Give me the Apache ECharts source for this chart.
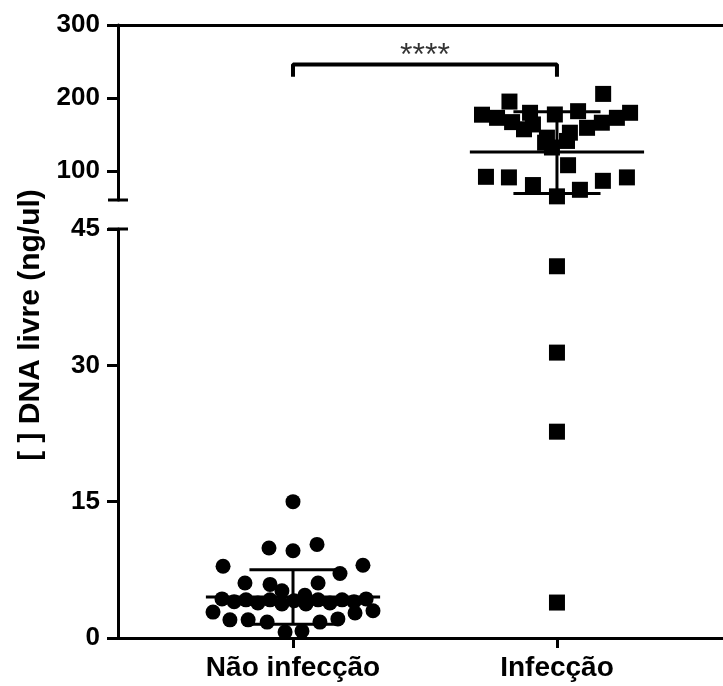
<!DOCTYPE html>
<html><head><meta charset="utf-8">
<script src="https://cdn.jsdelivr.net/npm/echarts@6/dist/echarts.min.js"></script>
<style>html,body{margin:0;padding:0;background:#fff}#c{width:723px;height:686px}</style>
</head><body><div id="c"></div>
<script>
// ---- data ----
const categories = ['Não infecção', 'Infecção'];
const categoryPositions = [1, 2];
// Não infecção: horizontal jitter (in category units) and values (ng/ul)
const naoOffsets = [0, -0.091, 0, 0.091, -0.265, 0.265, 0.178, -0.182, -0.087, 0.095, -0.042, 0.045,
  -0.269, -0.223, -0.178, -0.133, -0.087, -0.042, 0.004, 0.049, 0.095, 0.14, 0.186, 0.231, 0.277,
  -0.303, -0.239, -0.17, -0.098, 0.102, 0.17, 0.235, 0.303, -0.03, 0.034];
const naoValues = [15.0, 9.9, 9.6, 10.3, 7.9, 8.0, 7.1, 6.05, 5.9, 6.05, 5.2, 4.7,
  4.3, 4.0, 4.2, 3.85, 4.2, 3.75, 4.1, 3.75, 4.2, 3.85, 4.2, 4.0, 4.3,
  2.85, 2.0, 2.0, 1.75, 1.75, 2.1, 2.75, 3.0, 0.65, 0.77];
// Infecção
const infOffsets = [0.175, -0.18, -0.284, -0.227, -0.17, -0.102, -0.091, -0.008, 0.08, 0.277, 0.227, 0.17,
  0.114, 0.049, -0.038, -0.045, 0.038, -0.019, -0.125,
  -0.269, -0.182, -0.091, 0.042, 0, 0.087, 0.174, 0.265,
  0, 0, 0, 0];
const infValues = [205.5, 195, 177, 172.7, 166.8, 179.6, 163.6, 177.3, 181.8, 179.6, 172.7, 166,
  159, 152.3, 145.5, 138.6, 141, 132, 157,
  91.8, 91, 80.5, 107.7, 65, 74, 86.3, 91,
  40.9, 31.4, 22.7, 3.9];
// mean and SD whiskers per group
const means = [4.5, 126];
const sdUpper = [7.5, 181];
const sdLower = [1.5, 69];
// axes
const upperRange = [60, 300];
const upperTicks = [100, 200, 300];
const lowerRange = [0, 45];
const lowerInterval = 15;
const xRange = [0.337, 2.629];
// significance bracket
const significance = '****';
const bracketTop = 246;
const bracketLeg = 229;
const starsValue = 257;
const yTitle = '[ ] DNA livre (ng/ul)';

// ---- chart ----
const FONT = '"Liberation Sans", Arial, sans-serif';
const chart = echarts.init(document.getElementById('c'));
const axisLine = {show: true, lineStyle: {color: '#000', width: 3}};
const gridOf = v => (v >= upperRange[0] ? 0 : 1);

const series = [];
function scatter(offsets, values, center, symbol, size, g) {
  const pts = [];
  values.forEach((v, i) => { if (gridOf(v) === g) pts.push([center + offsets[i], v]); });
  series.push({type: 'scatter', xAxisIndex: g, yAxisIndex: g, data: pts, symbol: symbol,
    symbolSize: size, itemStyle: {color: '#000', opacity: 1}, silent: true, z: 2});
}
[0, 1].forEach(g => {
  scatter(naoOffsets, naoValues, categoryPositions[0], 'circle', 15, g);
  scatter(infOffsets, infValues, categoryPositions[1], 'rect', 16, g);
});
function line(points, g, w) {
  series.push({type: 'line', xAxisIndex: g, yAxisIndex: g, data: points, symbol: 'none',
    lineStyle: {color: '#000', width: w}, silent: true, z: 3, clip: false});
}
categoryPositions.forEach((c, i) => {
  const g = gridOf(means[i]);
  line([[c - 0.33, means[i]], [c + 0.33, means[i]]], g, 3);
  line([[c - 0.165, sdUpper[i]], [c + 0.165, sdUpper[i]]], g, 3);
  line([[c - 0.165, sdLower[i]], [c + 0.165, sdLower[i]]], g, 3);
  line([[c, sdLower[i]], [c, sdUpper[i]]], g, 3);
});
// bracket
line([[categoryPositions[0], bracketLeg], [categoryPositions[0], bracketTop],
      [categoryPositions[1], bracketTop], [categoryPositions[1], bracketLeg]], 0, 4);
series.push({type: 'scatter', xAxisIndex: 0, yAxisIndex: 0,
  data: [[(categoryPositions[0] + categoryPositions[1]) / 2, starsValue]],
  symbolSize: 1, itemStyle: {color: 'rgba(0,0,0,0)'}, silent: true,
  label: {show: true, position: 'inside', formatter: significance, color: '#000',
    fontSize: 32, fontFamily: FONT}});

const labelStyle = {color: '#000', fontSize: 26, fontWeight: 'bold', fontFamily: FONT};
chart.setOption({
  animation: false,
  backgroundColor: '#fff',
  grid: [
    {left: 118, right: 0, top: 25, height: 175},
    {left: 118, right: 0, top: 229, height: 409}
  ],
  xAxis: [
    {gridIndex: 0, type: 'value', min: xRange[0], max: xRange[1], position: 'top',
      axisLine: axisLine, axisTick: {show: false}, axisLabel: {show: false}, splitLine: {show: false}},
    {gridIndex: 1, type: 'value', min: xRange[0], max: xRange[1], position: 'bottom',
      axisLine: axisLine,
      axisTick: {show: true, customValues: categoryPositions, length: 10, lineStyle: {color: '#000', width: 3}},
      axisLabel: Object.assign({customValues: categoryPositions, margin: 16,
        formatter: v => categories[categoryPositions.indexOf(Math.round(v))] || ''}, labelStyle, {fontSize: 28}),
      splitLine: {show: false}}
  ],
  yAxis: [
    {gridIndex: 0, type: 'value', min: upperRange[0], max: upperRange[1],
      axisLine: axisLine,
      axisTick: {show: true, customValues: upperTicks, length: 11, lineStyle: {color: '#000', width: 3}},
      axisLabel: Object.assign({customValues: upperTicks, margin: 18}, labelStyle),
      splitLine: {show: false}},
    {gridIndex: 1, type: 'value', min: lowerRange[0], max: lowerRange[1], interval: lowerInterval,
      axisLine: axisLine,
      axisTick: {show: true, length: 11, lineStyle: {color: '#000', width: 3}},
      axisLabel: Object.assign({margin: 18}, labelStyle),
      splitLine: {show: false}}
  ],
  series: series
});

// axis-break caps and y title
const ax = chart.convertToPixel({xAxisIndex: 0}, xRange[0]);
const yUpperMin = chart.convertToPixel({yAxisIndex: 0}, upperRange[0]);
const yLowerMax = chart.convertToPixel({yAxisIndex: 1}, lowerRange[1]);
chart.setOption({
  graphic: [
    {type: 'line', shape: {x1: ax - 10, y1: yUpperMin, x2: ax + 10, y2: yUpperMin},
      style: {stroke: '#000', lineWidth: 3}},
    {type: 'line', shape: {x1: ax - 10, y1: yLowerMax, x2: ax + 10, y2: yLowerMax},
      style: {stroke: '#000', lineWidth: 3}},
    {type: 'text', x: 31, y: 325, rotation: Math.PI / 2,
      style: {text: yTitle, fill: '#000', font: 'bold 30px ' + FONT, textAlign: 'center', textVerticalAlign: 'middle'}}
  ]
});
</script></body></html>
